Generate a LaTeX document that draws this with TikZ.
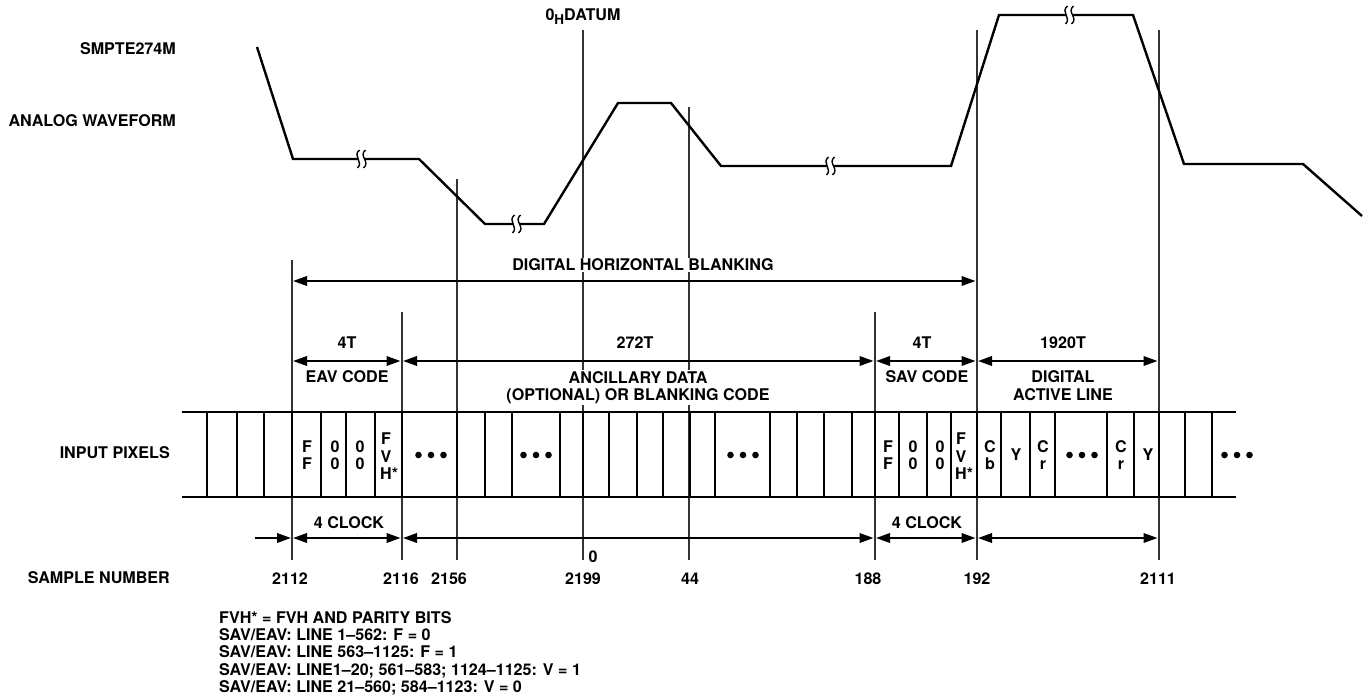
\documentclass[tikz,border=0pt]{standalone}
\usepackage{fontspec}
\setmainfont{TeX Gyre Heros}
\usetikzlibrary{arrows.meta}

\begin{document}
\begin{tikzpicture}[
    x=1pt, y=-1pt,
    % text styles
    lbl/.style={font=\fontsize{16.1}{17.4}\selectfont\bfseries, inner sep=0pt, align=center},
    lblr/.style={lbl, anchor=east},
    halo/.style={lbl, fill=white, inner ysep=1pt},
    % line styles
    waveline/.style={line width=2.4pt, line join=miter},
    pixline/.style={line width=2.4pt},
    tickline/.style={line width=1.2pt, draw=black!80},
    dimline/.style={{Triangle[length=14pt,width=9.5pt]}-{Triangle[length=14pt,width=9.5pt]}, line width=2pt, shorten <=1pt, shorten >=1.5pt},
    dimstub/.style={-{Triangle[length=14pt,width=9.5pt]}, line width=2pt, shorten >=1pt},
    % break mark on the waveform
    brk/.pic={
        \fill[white] (-1.5,-9) .. controls (-9,-3) and (3,3) .. (-3.5,9) -- (2.5,9) .. controls (10,3) and (-2,-3) .. (4.5,-9) -- cycle;
        \draw[line width=1.4pt] (-1.5,-9) .. controls (-9,-3) and (3,3) .. (-3.5,9);
        \draw[line width=1.4pt] (4.5,-9) .. controls (-3,-3) and (10,3) .. (2.5,9);
    },
    threedots/.pic={
        \foreach \dx in {-12.5,0,12.5} \fill (\dx,0) circle (3.3);
    }
]
\useasboundingbox (0,0) rectangle (1364,698);

% Row heights of the dimension arrows and of the pixel strip
\coordinate (rowblank) at (0,281);
\coordinate (rowcode) at (0,361);
\coordinate (rowclock) at (0,538);
\coordinate (stubstart) at (255,538);
\coordinate (pixtop) at (0,412);
\coordinate (pixbot) at (0,497);
\coordinate (pixleft) at (182,0);
\coordinate (pixright) at (1236,0);

% Vertical timing lines
\foreach \name/\xpos/\ytop in {eav/292/260, anc/402/312, sfirst/457/179, datum/583/30, sfour/689/107, sav/875/312, act/977/30, fin/1159/30}{
    \coordinate (\name-top) at (\xpos,\ytop);
    \coordinate (\name-bot) at (\xpos,560);
    \draw[tickline] (\name-top) -- (\name-bot);
}

% Analog waveform
\draw[waveline] (257,47) -- (293,159) -- (419,159) -- (485,224) -- (544,224) -- (618,103) -- (671,103) -- (721,166) -- (951,166) -- (999,15) -- (1133,15) -- (1184,164) -- (1303,164) -- (1362,216);
\foreach \bx/\by in {361/159, 516/224, 830/166, 1069/15}
    \pic at (\bx,\by) {brk};

% Pixel strip
\draw[pixline] (pixleft |- pixtop) -- (pixright |- pixtop);
\draw[pixline] (pixleft |- pixbot) -- (pixright |- pixbot);
\foreach \xpos in {207,237,264,292,321,346,375,402,457,485,512,560,583,609,637,663,690,715,770,797,824,852,875,899,927,951,977,1001,1030,1055,1107,1134,1159,1185,1212}
    \draw[pixline] (\xpos,412) -- (\xpos,497);

% Cell contents
\node (ffa) [lbl] at (307,455) {F\\F};
\node (zza) [lbl] at (335,455) {0\\0};
\node (zzb) [lbl] at (360,455) {0\\0};
\node (fvha) [lbl] at (386,456.5) {F\\V\\H\rlap{*}};
\node (ffb) [lbl] at (888,455) {F\\F};
\node (zzc) [lbl] at (913,455) {0\\0};
\node (zzd) [lbl] at (940,455) {0\\0};
\node (fvhb) [lbl] at (961,456.5) {F\\V\\H\rlap{*}};
\node (cb) [lbl] at (990,455) {C\\b};
\node (ya) [lbl] at (1016,455) {Y};
\node (cra) [lbl] at (1043,455) {C\\r};
\node (crb) [lbl] at (1121,455) {C\\r};
\node (yb) [lbl] at (1148,455) {Y};
\foreach \bx in {431,536,743,1082,1237}
    \pic at (\bx,455) {threedots};

% Side labels
\node (smpte) [lblr] at (176,49) {SMPTE274M};
\node (analog) [lblr] at (176,121) {ANALOG WAVEFORM};
\node (pixels) [lblr] at (170,453) {INPUT PIXELS};
\node (sample) [lblr] at (170,578) {SAMPLE NUMBER};
\node (datumlbl) [lbl] at (583,17) {0\raisebox{-4pt}{\fontsize{13.5}{13.5}\selectfont H}DATUM};

% Dimension labels
\node (blanklbl) [halo] at (643,265) {DIGITAL HORIZONTAL BLANKING};
\node (ancT) [lbl] at (347,343) {4T};
\node (eavlbl) [lbl] at (347,377) {EAV CODE};
\node (midT) [lbl] at (635,343) {272T};
\node (anclbl) [halo] at (638,387.5) {ANCILLARY DATA\\(OPTIONAL) OR BLANKING CODE};
\node (savT) [lbl] at (922,343) {4T};
\node (savlbl) [lbl] at (927,377) {SAV CODE};
\node (actT) [lbl] at (1063,343) {1920T};
\node (actlbl) [lbl] at (1063,385.5) {DIGITAL\\ACTIVE LINE};
\node (clocka) [lbl] at (349,523) {4 CLOCK};
\node (clockb) [lbl] at (927,523) {4 CLOCK};

% Dimension arrows
\draw[dimline] (eav-top |- rowblank) -- (act-top |- rowblank);
\draw[dimline] (eav-top |- rowcode) -- (anc-top |- rowcode);
\draw[dimline] (anc-top |- rowcode) -- (sav-top |- rowcode);
\draw[dimline] (sav-top |- rowcode) -- (act-top |- rowcode);
\draw[dimline] (act-top |- rowcode) -- (fin-top |- rowcode);
\draw[dimstub] (stubstart) -- (eav-top |- rowclock);
\draw[dimline] (eav-top |- rowclock) -- (anc-top |- rowclock);
\draw[dimline] (anc-top |- rowclock) -- (sav-top |- rowclock);
\draw[dimline] (sav-top |- rowclock) -- (act-top |- rowclock);
\draw[dimline] (act-top |- rowclock) -- (fin-top |- rowclock);

% Sample numbers
\node (sa) [lbl] at (290,579) {2112};
\node (sb) [lbl] at (401,579) {2116};
\node (sc) [lbl] at (449,579) {2156};
\node (sd) [lbl] at (593,557) {0};
\node (se) [lbl] at (583,579) {2199};
\node (sf) [lbl] at (690,579) {44};
\node (sg) [lbl] at (868,579) {188};
\node (sh) [lbl] at (977,579) {192};
\node (si) [lbl] at (1158,579) {2111};

% Notes
\node (notes) [lbl, anchor=north west, align=left] at (219,611) {FVH* = FVH AND PARITY BITS\\SAV/EAV: LINE 1--562: F = 0\\SAV/EAV: LINE 563--1125: F = 1\\SAV/EAV: LINE1--20; 561--583; 1124--1125: V = 1\\SAV/EAV: LINE 21--560; 584--1123: V = 0};

\end{tikzpicture}
\end{document}
